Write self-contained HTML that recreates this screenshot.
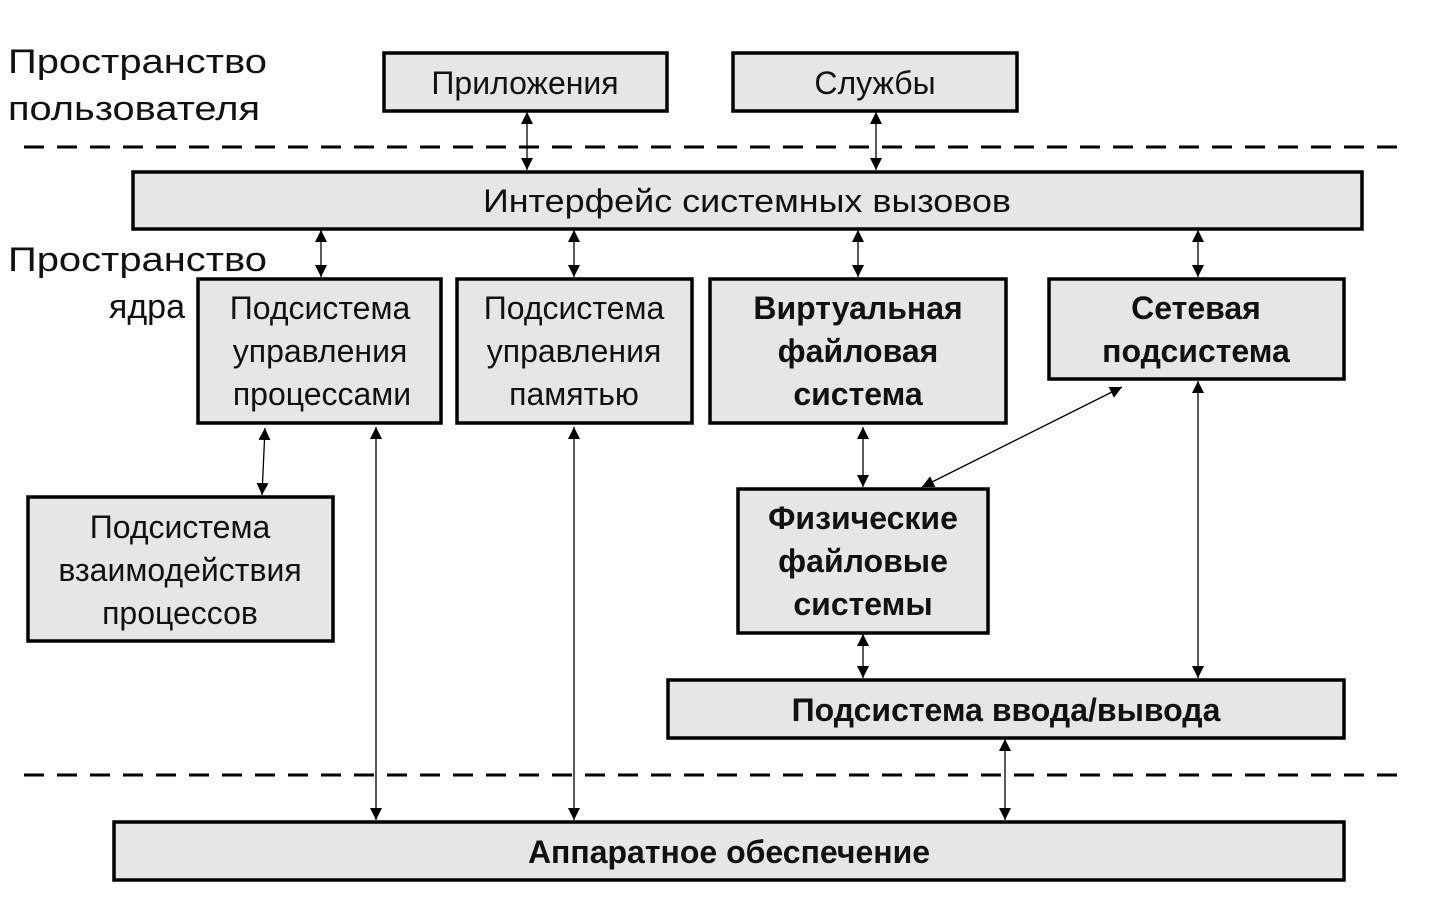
<!DOCTYPE html>
<html><head><meta charset="utf-8"><style>
html,body{margin:0;padding:0;background:#fff;}
svg text{font-family:"Liberation Sans",Arial,sans-serif;fill:#111;}
</style></head><body>
<svg width="1432" height="917" viewBox="0 0 1432 917" xmlns="http://www.w3.org/2000/svg">
<defs>
<marker id="a" viewBox="0 0 10 10" refX="10" refY="5" markerWidth="12" markerHeight="12" markerUnits="userSpaceOnUse" orient="auto-start-reverse">
<path d="M0,0 L10,5 L0,10 z" fill="#000"/></marker>
</defs>
<g stroke="#000" stroke-width="3" stroke-dasharray="20,13">
<line x1="24" y1="147" x2="1410" y2="147"/>
<line x1="24" y1="775" x2="1410" y2="775"/>
</g>
<g fill="#e6e6e6" stroke="#000" stroke-width="3.5">
<rect x="384" y="53" width="283" height="58"/>
<rect x="733" y="53" width="284" height="58"/>
<rect x="133" y="172" width="1229" height="57"/>
<rect x="198" y="279" width="243" height="144"/>
<rect x="457" y="279" width="235" height="144"/>
<rect x="710" y="279" width="296" height="144"/>
<rect x="1049" y="279" width="295" height="100"/>
<rect x="28" y="497" width="305" height="144"/>
<rect x="738" y="489" width="250" height="144"/>
<rect x="668" y="680" width="676" height="58"/>
<rect x="114" y="822" width="1230" height="58"/>
</g>
<g stroke="#000" stroke-width="1.3" marker-start="url(#a)" marker-end="url(#a)">
<line x1="527" y1="112" x2="527" y2="170"/>
<line x1="876" y1="112" x2="876" y2="170"/>
<line x1="321" y1="230" x2="321" y2="277"/>
<line x1="574" y1="230" x2="574" y2="277"/>
<line x1="858" y1="230" x2="858" y2="277"/>
<line x1="1198" y1="230" x2="1198" y2="277"/>
<line x1="265" y1="428" x2="262" y2="495"/>
<line x1="376" y1="427" x2="376" y2="820"/>
<line x1="574" y1="427" x2="574" y2="820"/>
<line x1="863" y1="427" x2="863" y2="487"/>
<line x1="1122" y1="387" x2="922" y2="487"/>
<line x1="1198" y1="381" x2="1198" y2="678"/>
<line x1="863" y1="634" x2="863" y2="678"/>
<line x1="1005" y1="739" x2="1005" y2="820"/>
</g>
<g font-size="34">
<text x="8" y="73" textLength="259" lengthAdjust="spacingAndGlyphs">Пространство</text>
<text x="8" y="120" textLength="252" lengthAdjust="spacingAndGlyphs">пользователя</text>
<text x="8" y="271" textLength="259" lengthAdjust="spacingAndGlyphs">Пространство</text>
<text x="185" y="318" text-anchor="end">ядра</text>
</g>
<g font-size="32" text-anchor="middle">
<text x="525" y="94">Приложения</text>
<text x="875" y="94">Службы</text>
<text x="747" y="212" textLength="528" lengthAdjust="spacingAndGlyphs">Интерфейс системных вызовов</text>
<text x="320" y="319">Подсистема</text>
<text x="320" y="362">управления</text>
<text x="322" y="405">процессами</text>
<text x="574" y="319">Подсистема</text>
<text x="574" y="362">управления</text>
<text x="574" y="405">памятью</text>
<text x="180" y="538">Подсистема</text>
<text x="180" y="581">взаимодействия</text>
<text x="180" y="624">процессов</text>
</g>
<g font-size="32" font-weight="bold" text-anchor="middle">
<text x="858" y="319">Виртуальная</text>
<text x="858" y="362">файловая</text>
<text x="858" y="405">система</text>
<text x="1196" y="319">Сетевая</text>
<text x="1196" y="362">подсистема</text>
<text x="863" y="529">Физические</text>
<text x="863" y="572">файловые</text>
<text x="863" y="615">системы</text>
<text x="1006" y="721">Подсистема ввода/вывода</text>
<text x="729" y="863">Аппаратное обеспечение</text>
</g>
</svg>
</body></html>
